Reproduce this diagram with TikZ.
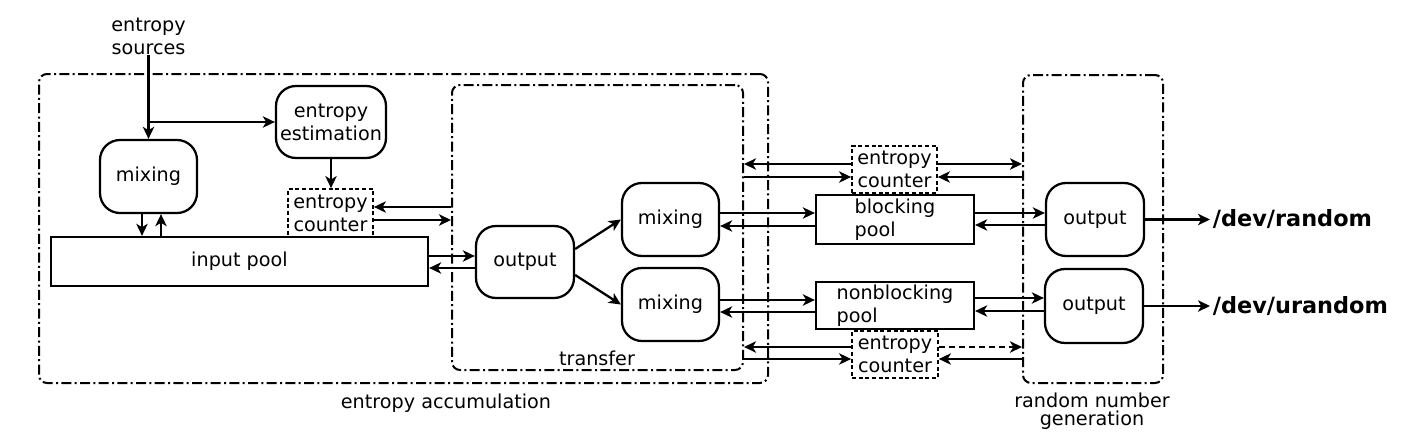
\documentclass[tikz,border=0pt]{standalone}
\usepackage{fontspec}
\setmainfont{DejaVu Sans}
\usetikzlibrary{arrows.meta}
\tikzset{
 base/.style={font=\fontsize{14.4}{17.25}\selectfont, inner sep=0pt, align=center},
 rbox/.style={base, draw, line width=1.7pt, rounded corners=15pt},
 poolbox/.style={base, draw, line width=1.7pt, align=left},
 ctrbox/.style={base, draw, line width=1.3pt, dash pattern=on 3pt off 2pt},
 group/.style={draw, line width=1.5pt, rounded corners=6pt, dash pattern=on 7.5pt off 2.5pt on 1.5pt off 2.5pt},
 arr/.style={line width=1.7pt, -{Stealth[length=9pt,width=8.5pt,inset=2.5pt]}},
 lbl/.style={base},
 dev/.style={font=\fontsize{16.8}{20}\selectfont\bfseries, inner sep=2pt, anchor=west},
}
\begin{document}
\begin{tikzpicture}[x=0.75pt, y=-0.75pt]
\useasboundingbox (0,0) rectangle (1407,443);
% groups
\node[group, minimum width=546.75pt, minimum height=231.75pt] (outer) at (403.5,228.5) {};
\node[group, minimum width=218.25pt, minimum height=213.75pt] (transfer) at (597.5,227.5) {};
\node[group, minimum width=105pt, minimum height=231pt] (rng) at (1093,229) {};
\node[lbl] (laccu) at (446,403) {entropy accumulation};
\node[lbl] (ltrans) at (597,358) {transfer};
\node[lbl, font=\fontsize{14.4}{13.5}\selectfont] (lrng) at (1092,411) {random number\\generation};
% nodes
\node[lbl] (src) at (148.5,36) {entropy\\sources};
\node[rbox, minimum width=72.75pt, minimum height=54.75pt] (mix1) at (148.5,176.5) {mixing};
\node[rbox, minimum width=82.5pt, minimum height=54pt] (est) at (331,122) {entropy\\estimation};
\node[ctrbox, minimum width=63.75pt, minimum height=36pt] (ctr1) at (330.5,213) {entropy\\counter};
\node[poolbox, minimum width=282.75pt, minimum height=36.75pt] (pool) at (239.5,261.5) {input pool};
\node[rbox, minimum width=73.5pt, minimum height=54pt] (outT) at (525,262) {output};
\node[rbox, minimum width=72.75pt, minimum height=54.75pt] (mixA) at (670.5,219.5) {mixing};
\node[rbox, minimum width=72.75pt, minimum height=54.75pt] (mixB) at (670.5,304.5) {mixing};
\node[poolbox, minimum width=118.5pt, minimum height=36.75pt] (block) at (895,219.5) {blocking\\pool};
\node[poolbox, minimum width=118.5pt, minimum height=35.25pt] (nonblock) at (895,305.5) {nonblocking\\pool};
\node[ctrbox, minimum width=63.75pt, minimum height=35.25pt] (ctrB) at (894.5,169.5) {entropy\\counter};
\node[ctrbox, minimum width=64.5pt, minimum height=35.25pt] (ctrC) at (895,354.5) {entropy\\counter};
\node[rbox, minimum width=73.5pt, minimum height=54.75pt] (out1) at (1095,219.5) {output};
\node[rbox, minimum width=73.5pt, minimum height=55.5pt] (out2) at (1094,306) {output};
\node[dev] (dev1) at (1210,219.5) {/dev/random};
\node[dev] (dev2) at (1210,306) {/dev/urandom};
% connectors
\draw[arr] (src.south) -- (mix1.north);
\draw[arr] (src.south |- est.west) -- (est.west);
\draw[arr] (mix1.south -| 142,0) -- (pool.north -| 142,0);
\draw[arr] (pool.north -| 161,0) -- (mix1.south -| 161,0);
\draw[arr] (est.south) -- (est.south |- ctr1.north);
\draw[arr] (transfer.west |- 0,207) -- (ctr1.east |- 0,207);
\draw[arr] (ctr1.east |- 0,220) -- (transfer.west |- 0,220);
\draw[arr] (pool.east |- 0,256) -- (outT.west |- 0,256);
\draw[arr] (outT.west |- 0,268) -- (pool.east |- 0,268);
\draw[arr] (outT.east |- 0,249) -- (mixA.west);
\draw[arr] (outT.east |- 0,275) -- (mixB.west);
\draw[arr] (mixA.east |- 0,213) -- (block.west |- 0,213);
\draw[arr] (block.west |- 0,226) -- (mixA.east |- 0,226);
\draw[arr] (mixB.east |- 0,300) -- (nonblock.west |- 0,300);
\draw[arr] (nonblock.west |- 0,312) -- (mixB.east |- 0,312);
\draw[arr] (block.east |- 0,213) -- (out1.west |- 0,213);
\draw[arr] (out1.west |- 0,225) -- (block.east |- 0,225);
\draw[arr] (nonblock.east |- 0,298) -- (out2.west |- 0,298);
\draw[arr] (out2.west |- 0,311) -- (nonblock.east |- 0,311);
\draw[arr] (out1.east) -- (dev1.west);
\draw[arr] (out2.east) -- (dev2.west);
\draw[arr] (ctrB.west |- 0,164) -- (transfer.east |- 0,164);
\draw[arr] (ctrB.east |- 0,164) -- (rng.west |- 0,164);
\draw[arr] (transfer.east |- 0,177) -- (ctrB.west |- 0,177);
\draw[arr] (rng.west |- 0,177) -- (ctrB.east |- 0,177);
\draw[arr] (ctrC.west |- 0,347) -- (transfer.east |- 0,347);
\draw[arr, dash pattern=on 4.5pt off 3pt] (ctrC.east |- 0,347) -- (rng.west |- 0,347);
\draw[arr] (transfer.east |- 0,359) -- (ctrC.west |- 0,359);
\draw[arr] (rng.west |- 0,359) -- (ctrC.east |- 0,359);
\end{tikzpicture}
\end{document}
